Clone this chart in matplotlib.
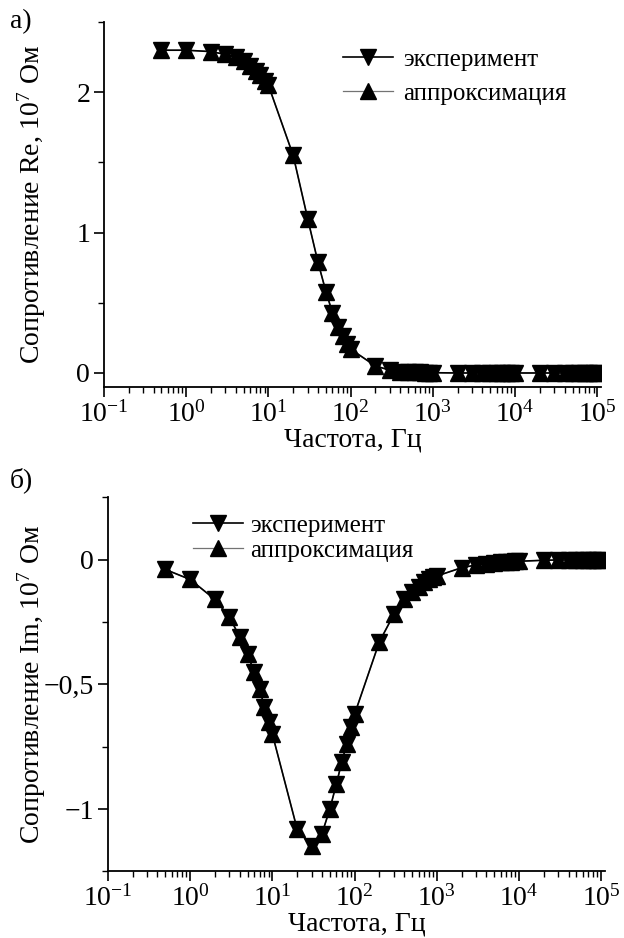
import matplotlib
matplotlib.use("Agg")
import matplotlib.pyplot as plt
from matplotlib.ticker import FixedLocator, FuncFormatter, LogLocator, NullFormatter

plt.rcParams["font.family"] = ["Liberation Serif", "DejaVu Serif"]
plt.rcParams["mathtext.fontset"] = "custom"
plt.rcParams["mathtext.rm"] = "Liberation Serif"
plt.rcParams["mathtext.it"] = "Liberation Serif:italic"

# frequencies, Hz
freq = [0.5, 1, 2, 3, 4, 5, 6, 7, 8, 9, 10,
        20, 30, 40, 50, 60, 70, 80, 90, 100,
        200, 300, 400, 500, 600, 700, 800, 900, 1000,
        2000, 3000, 4000, 5000, 6000, 7000, 8000, 9000, 10000,
        20000, 30000, 40000, 50000, 60000, 70000, 80000, 90000, 100000]

# real part, 10^7 Ohm
re_exp = [2.30, 2.30, 2.29, 2.27, 2.25, 2.22, 2.19, 2.15, 2.12, 2.08, 2.05,
          1.55, 1.10, 0.79, 0.58, 0.43, 0.33, 0.26, 0.21, 0.17,
          0.05, 0.02, 0.01, 0.01, 0.005, 0.004, 0.003, 0.002, 0.002,
          0.0, 0.0, 0.0, 0.0, 0.0, 0.0, 0.0, 0.0, 0.0,
          0.0, 0.0, 0.0, 0.0, 0.0, 0.0, 0.0, 0.0, 0.0]
re_fit = list(re_exp)  # approximation coincides with the measurement

# imaginary part, 10^7 Ohm
im_exp = [-0.04, -0.08, -0.16, -0.23, -0.31, -0.38, -0.45, -0.52, -0.59, -0.65, -0.70,
          -1.08, -1.15, -1.10, -1.00, -0.90, -0.81, -0.74, -0.67, -0.62,
          -0.33, -0.22, -0.16, -0.13, -0.11, -0.09, -0.08, -0.07, -0.066,
          -0.033, -0.022, -0.016, -0.013, -0.011, -0.009, -0.008, -0.007, -0.007,
          -0.003, -0.002, -0.002, -0.002, -0.001, -0.001, -0.001, -0.001, -0.001]
im_fit = list(im_exp)

labels = ["эксперимент", "аппроксимация"]


def comma(v, pos):
    if abs(v) < 1e-9:
        return "0"
    return ("%g" % v).replace(".", ",").replace("-", "\u2212")


def style(ax, ylim, majors, minors):
    ax.set_xscale("log")
    ax.set_xlim(0.1, 1.12e5)
    ax.set_ylim(*ylim)
    ax.spines["top"].set_visible(False)
    ax.spines["right"].set_visible(False)
    for s in ("left", "bottom"):
        ax.spines[s].set_linewidth(1.3)
    ax.xaxis.set_major_locator(LogLocator(base=10, numticks=20))
    ax.xaxis.set_minor_locator(LogLocator(base=10, subs=range(2, 10), numticks=20))
    ax.xaxis.set_minor_formatter(NullFormatter())
    ax.yaxis.set_major_locator(FixedLocator(majors))
    ax.yaxis.set_minor_locator(FixedLocator(minors))
    ax.yaxis.set_major_formatter(FuncFormatter(comma))
    ax.tick_params(which="major", direction="out", length=7, width=1.2, labelsize=20, pad=3)
    ax.tick_params(which="minor", direction="out", length=4, width=1.0)
    ax.set_xlabel("Частота, Гц", fontsize=20, labelpad=0)


def draw(ax, y_exp, y_fit):
    ax.plot(freq, y_fit, color="0.45", lw=0.9, marker="^", ms=11,
            mfc="black", mec="black", label=labels[1], zorder=3)
    ax.plot(freq, y_exp, color="black", lw=1.2, marker="v", ms=11,
            mfc="black", mec="black", label=labels[0], zorder=4)


fig = plt.figure(figsize=(6.24, 9.38), dpi=100)

ax1 = fig.add_axes([0.1667, 0.5874, 0.797, 0.389])
draw(ax1, re_exp, re_fit)
style(ax1, (-0.1, 2.5), [0, 1, 2], [0.5, 1.5, 2.5])
ax1.set_ylabel("Сопротивление Re, 10$^7$ Ом", fontsize=20)
ax1.yaxis.set_label_coords(-0.112, 0.5)
h, l = ax1.get_legend_handles_labels()
ax1.legend(h[::-1], l[::-1], loc="upper left", bbox_to_anchor=(0.46, 0.955),
           frameon=False, fontsize=18, handlelength=2.0, handletextpad=0.4,
           labelspacing=0.45, borderaxespad=0)

ax2 = fig.add_axes([0.173, 0.071, 0.797, 0.399])
draw(ax2, im_exp, im_fit)
style(ax2, (-1.25, 0.25), [-1, -0.5, 0], [-1.25, -0.75, -0.25, 0.25])
ax2.set_ylabel("Сопротивление Im, 10$^7$ Ом", fontsize=20)
ax2.yaxis.set_label_coords(-0.12, 0.5)
h, l = ax2.get_legend_handles_labels()
ax2.legend(h[::-1], l[::-1], loc="upper left", bbox_to_anchor=(0.15, 0.98),
           frameon=False, fontsize=18, handlelength=2.0, handletextpad=0.3,
           labelspacing=0.1, borderaxespad=0)

fig.text(0.016, 0.99, "а)", fontsize=20, va="top")
fig.text(0.016, 0.502, "б)", fontsize=20, va="top")

fig.savefig("out.png", dpi=100)
